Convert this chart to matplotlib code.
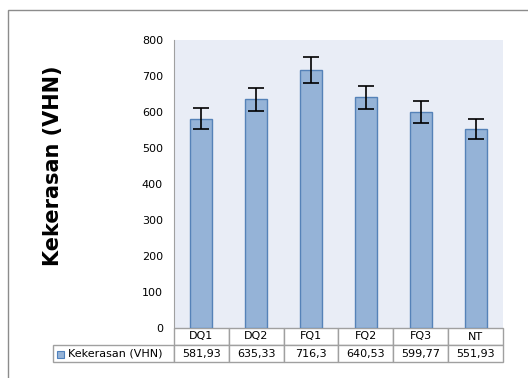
import numpy as np
import matplotlib.pyplot as plt
from matplotlib.patches import Rectangle
from matplotlib.table import Table

# Data dari grafik
sampel = ['DQ1', 'DQ2', 'FQ1', 'FQ2', 'FQ3', 'NT']
kekerasan = [581.93, 635.33, 716.3, 640.53, 599.77, 551.93]
galat = [30, 32, 36, 32, 30, 28]
label_seri = 'Kekerasan (VHN)'
yticks = [0, 100, 200, 300, 400, 500, 600, 700, 800]

fig = plt.figure(figsize=(5.28, 3.78), dpi=100)
ax = fig.add_axes([174/528, 50/378, 329/528, 288/378])
ax.set_facecolor('#E9EDF6')

x = np.arange(len(sampel))
ax.bar(x, kekerasan, width=0.4, color='#95B3D7', edgecolor='#5582B8',
       linewidth=1.0, zorder=2)
ax.errorbar(x, kekerasan, yerr=galat, fmt='none', ecolor='black',
            elinewidth=1.2, capsize=5.8, capthick=1.2, zorder=3)

ax.set_xlim(-0.5, len(sampel) - 0.5)
ax.set_ylim(0, 800)
ax.set_yticks(yticks)
ax.set_yticklabels([str(v) for v in yticks], fontsize=8)
ax.tick_params(axis='y', length=0, pad=8)
ax.set_xticks([])
for s in ['top', 'right', 'bottom']:
    ax.spines[s].set_visible(False)
ax.spines['left'].set_color('#A0A0A0')

# Tabel data di bawah grafik
w0 = 121/329
tinggi = 34/288
tab = Table(ax, bbox=[-w0, -tinggi, 1 + w0, tinggi])
for j, nama in enumerate(sampel):
    c = tab.add_cell(0, j + 1, width=1/6, height=0.5, text=nama, loc='center')
    c.set_edgecolor('#A0A0A0')
    c.get_text().set_fontsize(8)
    c = tab.add_cell(1, j + 1, width=1/6, height=0.5,
                     text=f'{kekerasan[j]:g}'.replace('.', ','), loc='center')
    c.set_edgecolor('#A0A0A0')
    c.get_text().set_fontsize(8)
c = tab.add_cell(0, 0, width=w0, height=0.5, text='')
c.visible_edges = ''
c = tab.add_cell(1, 0, width=w0, height=0.5, text=label_seri, loc='left')
c.PAD = 0.12
c.set_edgecolor('#A0A0A0')
c.get_text().set_fontsize(8)
tab.auto_set_font_size(False)
tab.set_clip_on(False)
ax.add_table(tab)

# kotak legenda kecil
ax.add_patch(Rectangle(((57-174)/329, -29.5/288), 7/329, 7/288,
                       transform=ax.transAxes, facecolor='#95B3D7',
                       edgecolor='#4F81BD', linewidth=0.8, clip_on=False))

fig.text(53/528, (378-166)/378, label_seri, rotation=90, fontsize=15,
         fontweight='bold', ha='center', va='center')

# bingkai luar
fig.add_artist(Rectangle((8/528, -0.1), 1, 368/378 + 0.1,
                         transform=fig.transFigure, fill=False,
                         edgecolor='#8C8C8C', linewidth=1.0))

fig.savefig('out.png', dpi=100)
